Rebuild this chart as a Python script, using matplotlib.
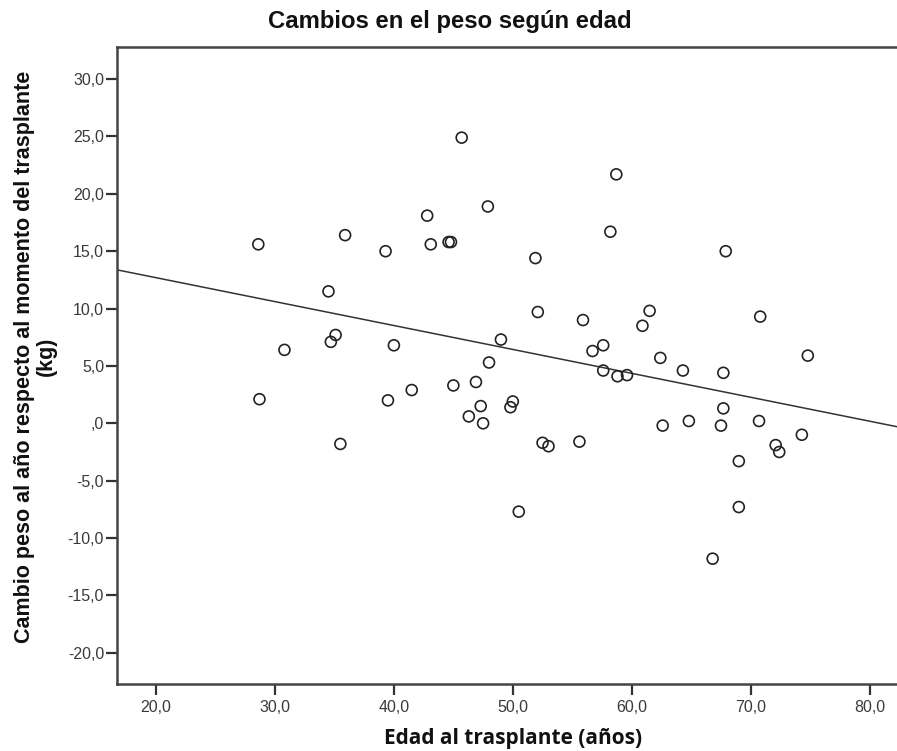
import numpy as np
import matplotlib.pyplot as plt

# %% Data
edad = [28.6, 35.9, 39.3, 42.8, 43.1, 44.6, 44.8, 34.5, 35.1, 34.7,
        30.8, 40.0, 45.7, 58.7, 47.9, 58.2, 67.9, 51.9, 52.1, 55.9,
        61.5, 60.9, 70.8, 49.0, 48.0, 56.7, 57.6, 62.4, 74.8, 64.3,
        67.7, 57.6, 58.8, 59.6, 46.9, 45.0, 28.7, 39.5, 41.5, 35.5,
        47.3, 46.3, 47.5, 50.0, 49.8, 52.5, 53.0, 55.6, 50.5, 62.6,
        64.8, 67.7, 67.5, 70.7, 74.3, 72.1, 72.4, 69.0, 69.0, 66.8]
cambio = [15.6, 16.4, 15.0, 18.1, 15.6, 15.8, 15.8, 11.5, 7.7, 7.1,
          6.4, 6.8, 24.9, 21.7, 18.9, 16.7, 15.0, 14.4, 9.7, 9.0,
          9.8, 8.5, 9.3, 7.3, 5.3, 6.3, 6.8, 5.7, 5.9, 4.6,
          4.4, 4.6, 4.1, 4.2, 3.6, 3.3, 2.1, 2.0, 2.9, -1.8,
          1.5, 0.6, 0.0, 1.9, 1.4, -1.7, -2.0, -1.6, -7.7, -0.2,
          0.2, 1.3, -0.2, 0.2, -1.0, -1.9, -2.5, -3.3, -7.3, -11.8]

x_ticks = [20, 30, 40, 50, 60, 70, 80]
y_ticks = [-20, -15, -10, -5, 0, 5, 10, 15, 20, 25, 30]

title = "Cambios en el peso según edad"
xlabel = "Edad al trasplante (años)"
ylabel = "Cambio peso al año respecto al momento del trasplante\n(kg)"


def coma(v):
    # SPSS style: decimal comma, no leading zero for 0
    s = f"{v:.1f}".replace(".", ",")
    return ",0" if v == 0 else s


# %% Figure
plt.rcParams['font.family'] = ['Liberation Sans', 'DejaVu Sans']
fig = plt.figure(figsize=(8.97, 7.51), dpi=100)
ax = fig.add_axes([0.1299, 0.0896, 0.8701, 0.8478])

ax.scatter(edad, cambio, s=62, facecolors='none', edgecolors='#222222',
           linewidths=1.2, zorder=3)

# linear fit line
b, a = np.polyfit(edad, cambio, 1)
xl = np.array([16.68, 82.3])
ax.plot(xl, a + b * xl, color='#333333', lw=1.1, zorder=2)

ax.set_xlim(16.68, 82.3)
ax.set_ylim(-22.7, 32.8)
ax.set_xticks(x_ticks)
ax.set_yticks(y_ticks)
ax.set_xticklabels([coma(v) for v in x_ticks])
ax.set_yticklabels([coma(v) for v in y_ticks])
ax.tick_params(direction='out', length=8, width=1.6, color='#333333',
               labelsize=11.5, labelcolor='#3a3a3a')
ax.tick_params(axis='y', pad=1)
ax.tick_params(axis='x', pad=4)

for side in ['left', 'bottom', 'top']:
    ax.spines[side].set_linewidth(1.8)
    ax.spines[side].set_color('#444444')
ax.spines['right'].set_visible(False)

fig.text(0.5017, 0.971, title, ha='center', va='center', fontsize=17.2,
         fontweight='bold', color='#111111')
fig.text(0.572, 0.016, xlabel, ha='center', va='center', fontsize=15,
         fontweight='bold', family=['Open Sans', 'DejaVu Sans'], color='#111111')
fig.text(0.0396, 0.525, ylabel, ha='center', va='center', rotation=90,
         fontsize=15.5, fontweight='bold', color='#111111', linespacing=1.05)

plt.savefig('out.png', dpi=100)
